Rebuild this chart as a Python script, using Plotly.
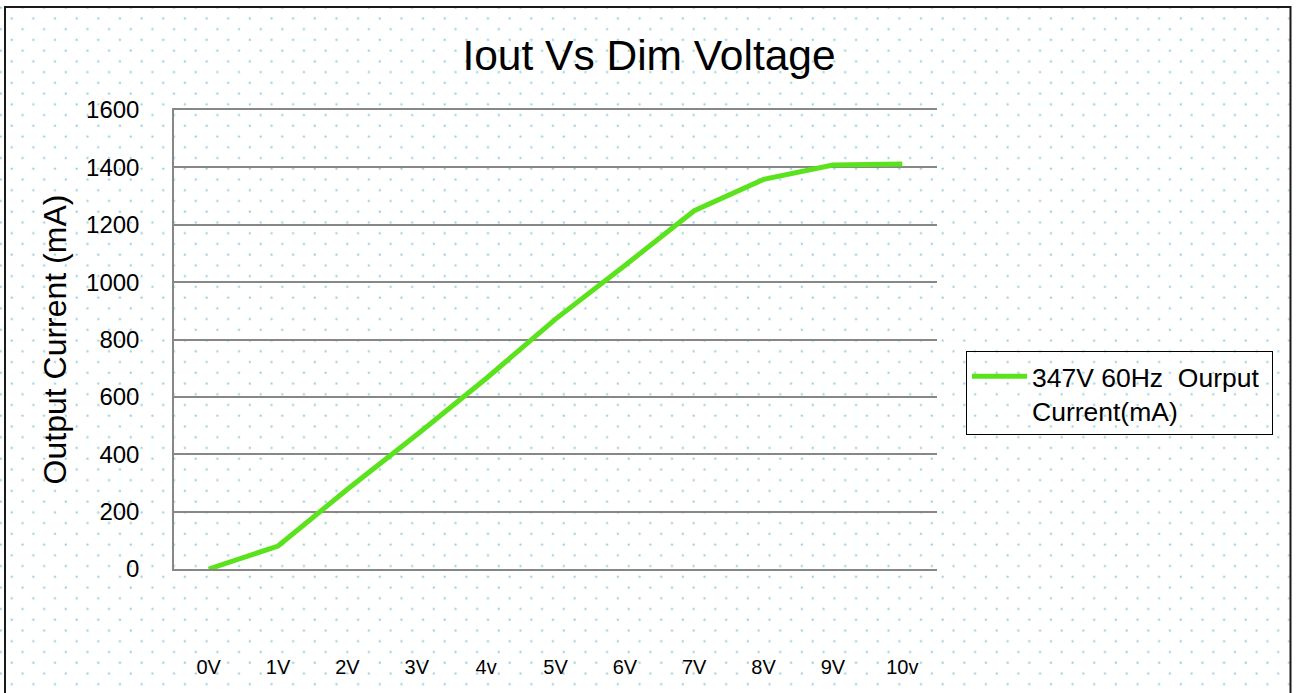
import plotly.graph_objects as go
import base64

# ---- data ----
categories = ["0V", "1V", "2V", "3V", "4v", "5V", "6V", "7V", "8V", "9V", "10v"]
output_current = [0, 80, 278, 468, 664, 871, 1058, 1249, 1358, 1408, 1412]
series_name = "347V 60Hz\u00a0 Ourput\u00a0<br>Current(mA)"
y_ticks = [0, 200, 400, 600, 800, 1000, 1200, 1400, 1600]

W, H = 1298, 693
L, R, T, B = 174, 1298 - 937, 110, 693 - 569.5
pw, ph = W - L - R, H - T - B

def px_x(x):
    return (x - L) / pw

def px_y(y):
    return (H - B - y) / ph

FONT = "Liberation Sans, Arial, sans-serif"

# dotted background pattern
svg = (
    f'<svg xmlns="http://www.w3.org/2000/svg" width="{W}" height="{H}">'
    '<defs><pattern id="p" x="6" y="2" width="21.65" height="21.5" patternUnits="userSpaceOnUse">'
    '<circle cx="5.7" cy="16.3" r="1.15" fill="#98d0d8"/>'
    '<circle cx="16.5" cy="5.55" r="1.15" fill="#98d0d8"/>'
    '</pattern></defs>'
    f'<rect width="{W}" height="{H}" fill="url(#p)"/></svg>'
)
svg_uri = "data:image/svg+xml;base64," + base64.b64encode(svg.encode()).decode()

fig = go.Figure()
fig.add_trace(go.Scatter(
    x=categories, y=output_current, mode="lines", name=series_name,
    line=dict(color="#5ae31c", width=5),
))

fig.update_layout(
    width=W, height=H,
    margin=dict(l=L, r=R, t=T, b=B, autoexpand=False),
    paper_bgcolor="white",
    plot_bgcolor="rgba(0,0,0,0)",
    font=dict(family=FONT, color="#000"),
    title=dict(text="Iout Vs Dim Voltage", font=dict(size=42.5, color="#000"),
               xref="container", x=0.5, xanchor="center",
               yref="container", y=1 - 55 / H, yanchor="middle"),
    xaxis=dict(
        type="category", range=[-0.5, len(categories) - 0.5],
        showgrid=False, showline=True, linecolor="#878787", linewidth=1.5,
        mirror=True,
        ticks="", tickfont=dict(size=20), ticklabelstandoff=79,
        zeroline=False,
    ),
    yaxis=dict(
        range=[0, 1600], tickvals=y_ticks,
        showgrid=True, gridcolor="#878787", gridwidth=1.5,
        showline=True, linecolor="#878787", linewidth=1.5,
        ticks="", tickfont=dict(size=24), ticklabelstandoff=28,
        zeroline=False,
        title=dict(text="Output Current (mA)", font=dict(size=32), standoff=10),
        automargin=True,
    ),
    legend=dict(
        x=px_x(966), y=px_y(351.7), xanchor="left", yanchor="top",
        bordercolor="#000", borderwidth=1, bgcolor="rgba(0,0,0,0)",
        font=dict(size=26.5), valign="top", itemwidth=55,
    ),
    showlegend=True,
    images=[dict(
        source=svg_uri, xref="paper", yref="paper",
        x=px_x(0), y=px_y(0), sizex=W / pw, sizey=H / ph,
        xanchor="left", yanchor="top", sizing="stretch", layer="below",
    )],
    shapes=[dict(
        type="rect", xref="paper", yref="paper",
        x0=px_x(5), x1=px_x(1290.5), y0=px_y(7), y1=px_y(720),
        line=dict(color="#1a1a1a", width=2), fillcolor="rgba(0,0,0,0)",
        layer="above",
    )],
)

fig.write_html(
    "out.html",
    config={"displayModeBar": False},
    post_script="document.body.style.margin='0';document.body.style.overflow='hidden';",
)
